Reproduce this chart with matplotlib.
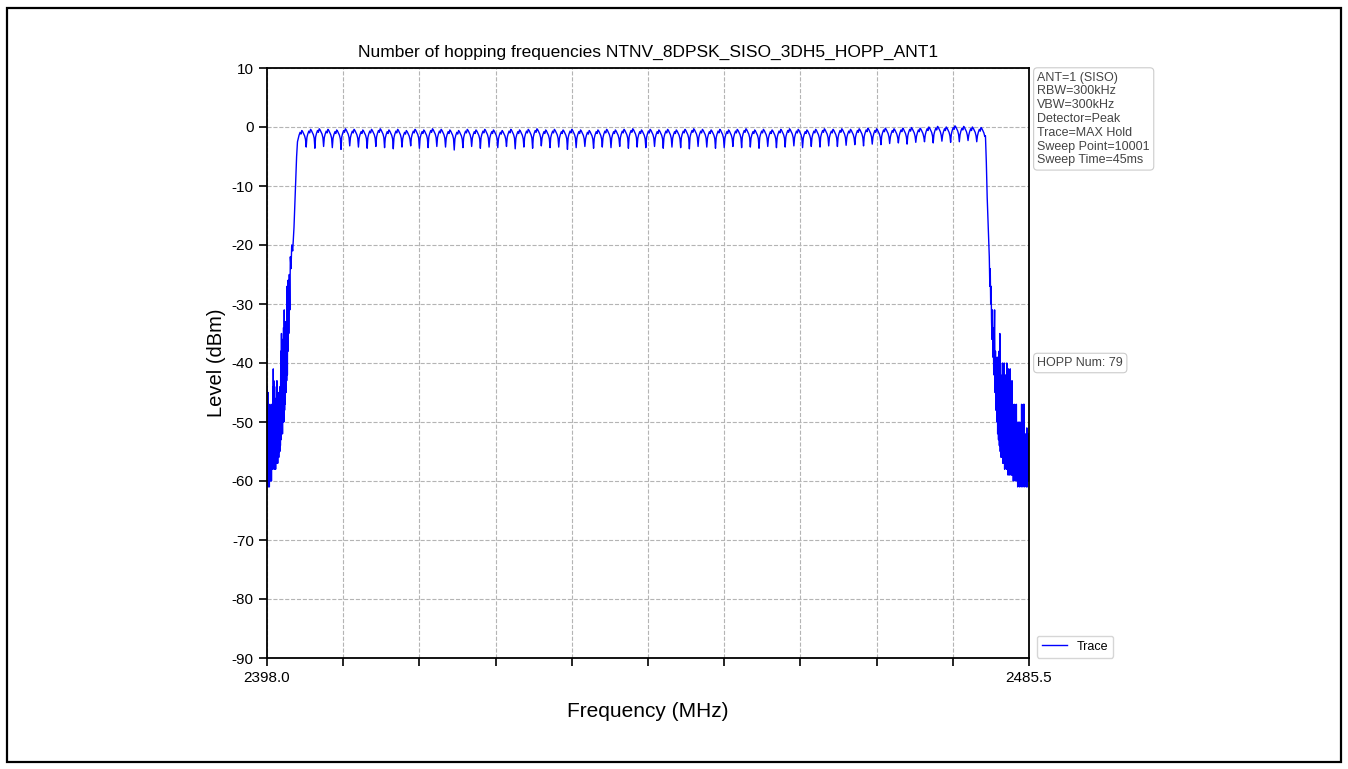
#!/usr/bin/env python3
# Hopping frequencies plot (max hold trace of 79 BT channels)

import matplotlib
matplotlib.use("Agg")
import matplotlib.pyplot as plt
import matplotlib.transforms as mtransforms
from matplotlib.patches import Rectangle
import numpy as np

plt.rcParams['font.family'] = ['Liberation Sans', 'DejaVu Sans']
plt.rcParams['axes.unicode_minus'] = False

# ---------------- data ----------------
title = "Number of hopping frequencies NTNV_8DPSK_SISO_3DH5_HOPP_ANT1"
info_lines = ["ANT=1 (SISO)", "RBW=300kHz", "VBW=300kHz", "Detector=Peak",
              "Trace=MAX Hold", "Sweep Point=10001", "Sweep Time=45ms"]
hopp_num = 79

f_start = 2398.0
f_stop = 2485.5
y_ticks = [-90, -80, -70, -60, -50, -40, -30, -20, -10, 0, 10]

# channel centres 2402..2480 MHz
ch_freq = list(range(2402, 2481))

# peak level of each channel (dBm)
ch_peak = [
    -0.6, -0.4, -0.3, -0.4, -0.5, -0.3, -0.4, -0.5, -0.4, -0.3,
    -0.5, -0.4, -0.6, -0.4, -0.5, -0.3, -0.4, -0.5, -0.6, -0.4,
    -0.5, -0.4, -0.5, -0.6, -0.4, -0.5, -0.4, -0.3, -0.5, -0.4,
    -0.5, -0.4, -0.5, -0.6, -0.5, -0.4, -0.5, -0.4, -0.3, -0.5,
    -0.4, -0.5, -0.4, -0.5, -0.4, -0.3, -0.4, -0.5, -0.4, -0.5,
    -0.4, -0.3, -0.5, -0.4, -0.5, -0.4, -0.3, -0.4, -0.5, -0.4,
    -0.3, -0.4, -0.3, -0.4, -0.3, -0.2, -0.3, -0.2, -0.3, -0.2,
    -0.1, -0.2, 0.0, 0.1, 0.0, 0.2, 0.1, 0.0, -0.1]

# level of the notch between neighbouring channels (dBm)
ch_dip = [
    -3.4, -3.6, -3.3, -3.5, -3.8, -3.2, -3.4, -3.6, -3.3, -3.5,
    -3.7, -3.4, -3.2, -3.6, -3.5, -3.3, -3.4, -3.9, -3.5, -3.3,
    -3.6, -3.4, -3.5, -3.3, -3.7, -3.4, -3.6, -3.2, -3.5, -3.4,
    -3.8, -3.5, -3.3, -3.6, -3.4, -3.5, -3.3, -3.6, -3.4, -3.5,
    -3.3, -3.6, -3.4, -3.5, -3.7, -3.3, -3.4, -3.6, -3.5, -3.3,
    -3.5, -3.4, -3.6, -3.3, -3.5, -3.4, -3.2, -3.5, -3.3, -3.4,
    -3.2, -3.3, -3.1, -3.0, -3.2, -2.9, -3.0, -2.8, -2.7, -2.9,
    -2.6, -2.5, -2.7, -2.4, -2.6, -2.5, -2.3, -2.5]

# shape of one hop around its centre (MHz offset, dB below peak)
hop_offset = [-0.42, -0.32, -0.20, -0.10, 0.0, 0.10, 0.20, 0.32, 0.42]
hop_drop = [-1.4, -0.8, -0.3, -0.6, 0.0, -0.2, -0.5, -0.9, -1.5]

# lower band edge (noisy skirt)
left_f = [2398.00, 2398.03, 2398.06, 2398.09, 2398.12, 2398.15, 2398.18, 2398.21,
          2398.24, 2398.27, 2398.30, 2398.33, 2398.36, 2398.39, 2398.42, 2398.45,
          2398.48, 2398.51, 2398.54, 2398.57, 2398.60, 2398.63, 2398.66, 2398.69,
          2398.72, 2398.75, 2398.78, 2398.81, 2398.84, 2398.87, 2398.90, 2398.93,
          2398.96, 2398.99, 2399.02, 2399.05, 2399.08, 2399.11, 2399.14, 2399.17,
          2399.20, 2399.23, 2399.26, 2399.29, 2399.32, 2399.35, 2399.38, 2399.41,
          2399.44, 2399.47, 2399.50, 2399.54, 2399.58, 2399.62, 2399.66, 2399.70,
          2399.74, 2399.78, 2399.82, 2399.86, 2399.90, 2399.94, 2399.98, 2400.02,
          2400.06, 2400.10, 2400.14, 2400.18, 2400.22, 2400.26, 2400.30, 2400.34,
          2400.38, 2400.42, 2400.46, 2400.50, 2400.56, 2400.62, 2400.68, 2400.76,
          2400.84, 2400.95, 2401.10, 2401.25, 2401.40, 2401.50]
left_lvl = [-44, -60, -46, -59, -45, -61, -49, -58,
            -47, -61, -50, -59, -48, -60, -51, -58,
            -47, -60, -52, -58, -49, -57, -44, -58,
            -41, -56, -43, -57, -50, -58, -52, -57,
            -48, -58, -46, -56, -44, -57, -43, -56,
            -46, -57, -45, -55, -47, -56, -45, -55,
            -49, -55, -44, -54, -38, -53, -35, -52,
            -36, -52, -40, -50, -34, -50, -31, -48,
            -33, -47, -34, -45, -33, -43, -27, -42,
            -26, -38, -26, -35, -25, -31, -22, -24,
            -20, -21, -17, -11, -5, -2.5]

# upper band edge (noisy skirt)
right_f = [2480.50, 2480.60, 2480.70, 2480.82, 2480.94, 2481.00, 2481.05, 2481.10,
           2481.15, 2481.20, 2481.25, 2481.30, 2481.35, 2481.40, 2481.45, 2481.50,
           2481.55, 2481.60, 2481.65, 2481.70, 2481.75, 2481.80, 2481.85, 2481.90,
           2481.95, 2482.00, 2482.05, 2482.10, 2482.15, 2482.20, 2482.25, 2482.30,
           2482.35, 2482.40, 2482.45, 2482.50, 2482.55, 2482.60, 2482.65, 2482.70,
           2482.75, 2482.80, 2482.85, 2482.90, 2482.95, 2483.00, 2483.05, 2483.10,
           2483.15, 2483.20, 2483.25, 2483.30, 2483.35, 2483.40, 2483.45, 2483.50,
           2483.55, 2483.60, 2483.65, 2483.70, 2483.75, 2483.80, 2483.85, 2483.90,
           2483.95, 2484.00, 2484.05, 2484.10, 2484.15, 2484.20, 2484.25, 2484.30,
           2484.35, 2484.40, 2484.45, 2484.50, 2484.55, 2484.60, 2484.65, 2484.70,
           2484.75, 2484.80, 2484.85, 2484.90, 2484.95, 2485.00, 2485.05, 2485.10,
           2485.15, 2485.20, 2485.25, 2485.30, 2485.35, 2485.40, 2485.45, 2485.50]
right_lvl = [-1.5, -6, -12, -17, -22, -27, -24, -30,
             -27, -33, -36, -31, -39, -34, -42, -36,
             -31, -45, -38, -48, -40, -50, -39, -52,
             -41, -53, -38, -54, -35, -55, -42, -56,
             -44, -56, -40, -57, -41, -57, -40, -58,
             -44, -57, -42, -58, -40, -58, -45, -59,
             -41, -58, -43, -59, -41, -58, -48, -59,
             -43, -59, -47, -60, -50, -59, -47, -60,
             -52, -59, -47, -60, -54, -61, -50, -60,
             -53, -61, -50, -60, -55, -61, -47, -60,
             -52, -61, -47, -60, -47, -61, -55, -60,
             -52, -61, -51, -61, -55, -60, -52, -60]


def build_trace():
    f = list(left_f)
    y = list(left_lvl)
    for i, fc in enumerate(ch_freq):
        for off, drop in zip(hop_offset, hop_drop):
            f.append(fc + off)
            y.append(ch_peak[i] + drop)
        if i < len(ch_dip):
            f.append(fc + 0.5)
            y.append(ch_dip[i])
    f += right_f
    y += right_lvl
    return np.array(f), np.array(y)


def main():
    W, H = 1348, 769
    fig = plt.figure(figsize=(W / 100, H / 100), dpi=100)
    ax = fig.add_axes([267 / W, 1 - 658 / H, (1029 - 267) / W, (658 - 68) / H])

    # thin frame around whole picture
    fig.patches.append(Rectangle((7 / W, 7 / H), (1341 - 7) / W, (761 - 7) / H,
                                 transform=fig.transFigure, fill=False,
                                 edgecolor='black', linewidth=1.6))

    f, y = build_trace()
    ax.plot(f, y, color='#0000ff', linewidth=1.0, label='Trace')

    ax.set_xlim(f_start, f_stop)
    ax.set_ylim(-90, 10)
    ax.set_yticks(y_ticks)
    x_ticks = np.linspace(f_start, f_stop, 11)
    ax.set_xticks(x_ticks)
    x_labels = [''] * len(x_ticks)
    x_labels[0] = '{:.1f}'.format(f_start)
    x_labels[-1] = '{:.1f}'.format(f_stop)
    ax.set_xticklabels(x_labels)
    ax.tick_params(labelsize=11, length=6, width=1.2)

    ax.grid(True, linestyle='--', color='#b4b4b4', linewidth=0.8)
    for sp in ax.spines.values():
        sp.set_linewidth(1.3)

    ax.set_title(title, fontsize=12.5, pad=8)
    ax.set_xlabel('Frequency (MHz)', fontsize=15, labelpad=12)
    ax.set_ylabel('Level (dBm)', fontsize=14.5)

    box = dict(boxstyle='round,pad=0.3', facecolor='white',
               edgecolor='#cccccc', linewidth=0.8)
    ax.text(1.011, 0.994, '\n'.join(info_lines), transform=ax.transAxes,
            ha='left', va='top', fontsize=9, color='#444444',
            linespacing=1.2, bbox=box)

    trans = mtransforms.blended_transform_factory(ax.transAxes, ax.transData)
    ax.text(1.011, -40, 'HOPP Num: {}'.format(hopp_num), transform=trans,
            ha='left', va='center', fontsize=9, color='#444444', bbox=box)

    ax.legend(loc='lower left', bbox_to_anchor=(1.002, -0.01), fontsize=9,
              frameon=True, edgecolor='#cccccc', fancybox=True)

    fig.savefig('out.png', dpi=100)
    plt.close(fig)


if __name__ == "__main__":
    main()
